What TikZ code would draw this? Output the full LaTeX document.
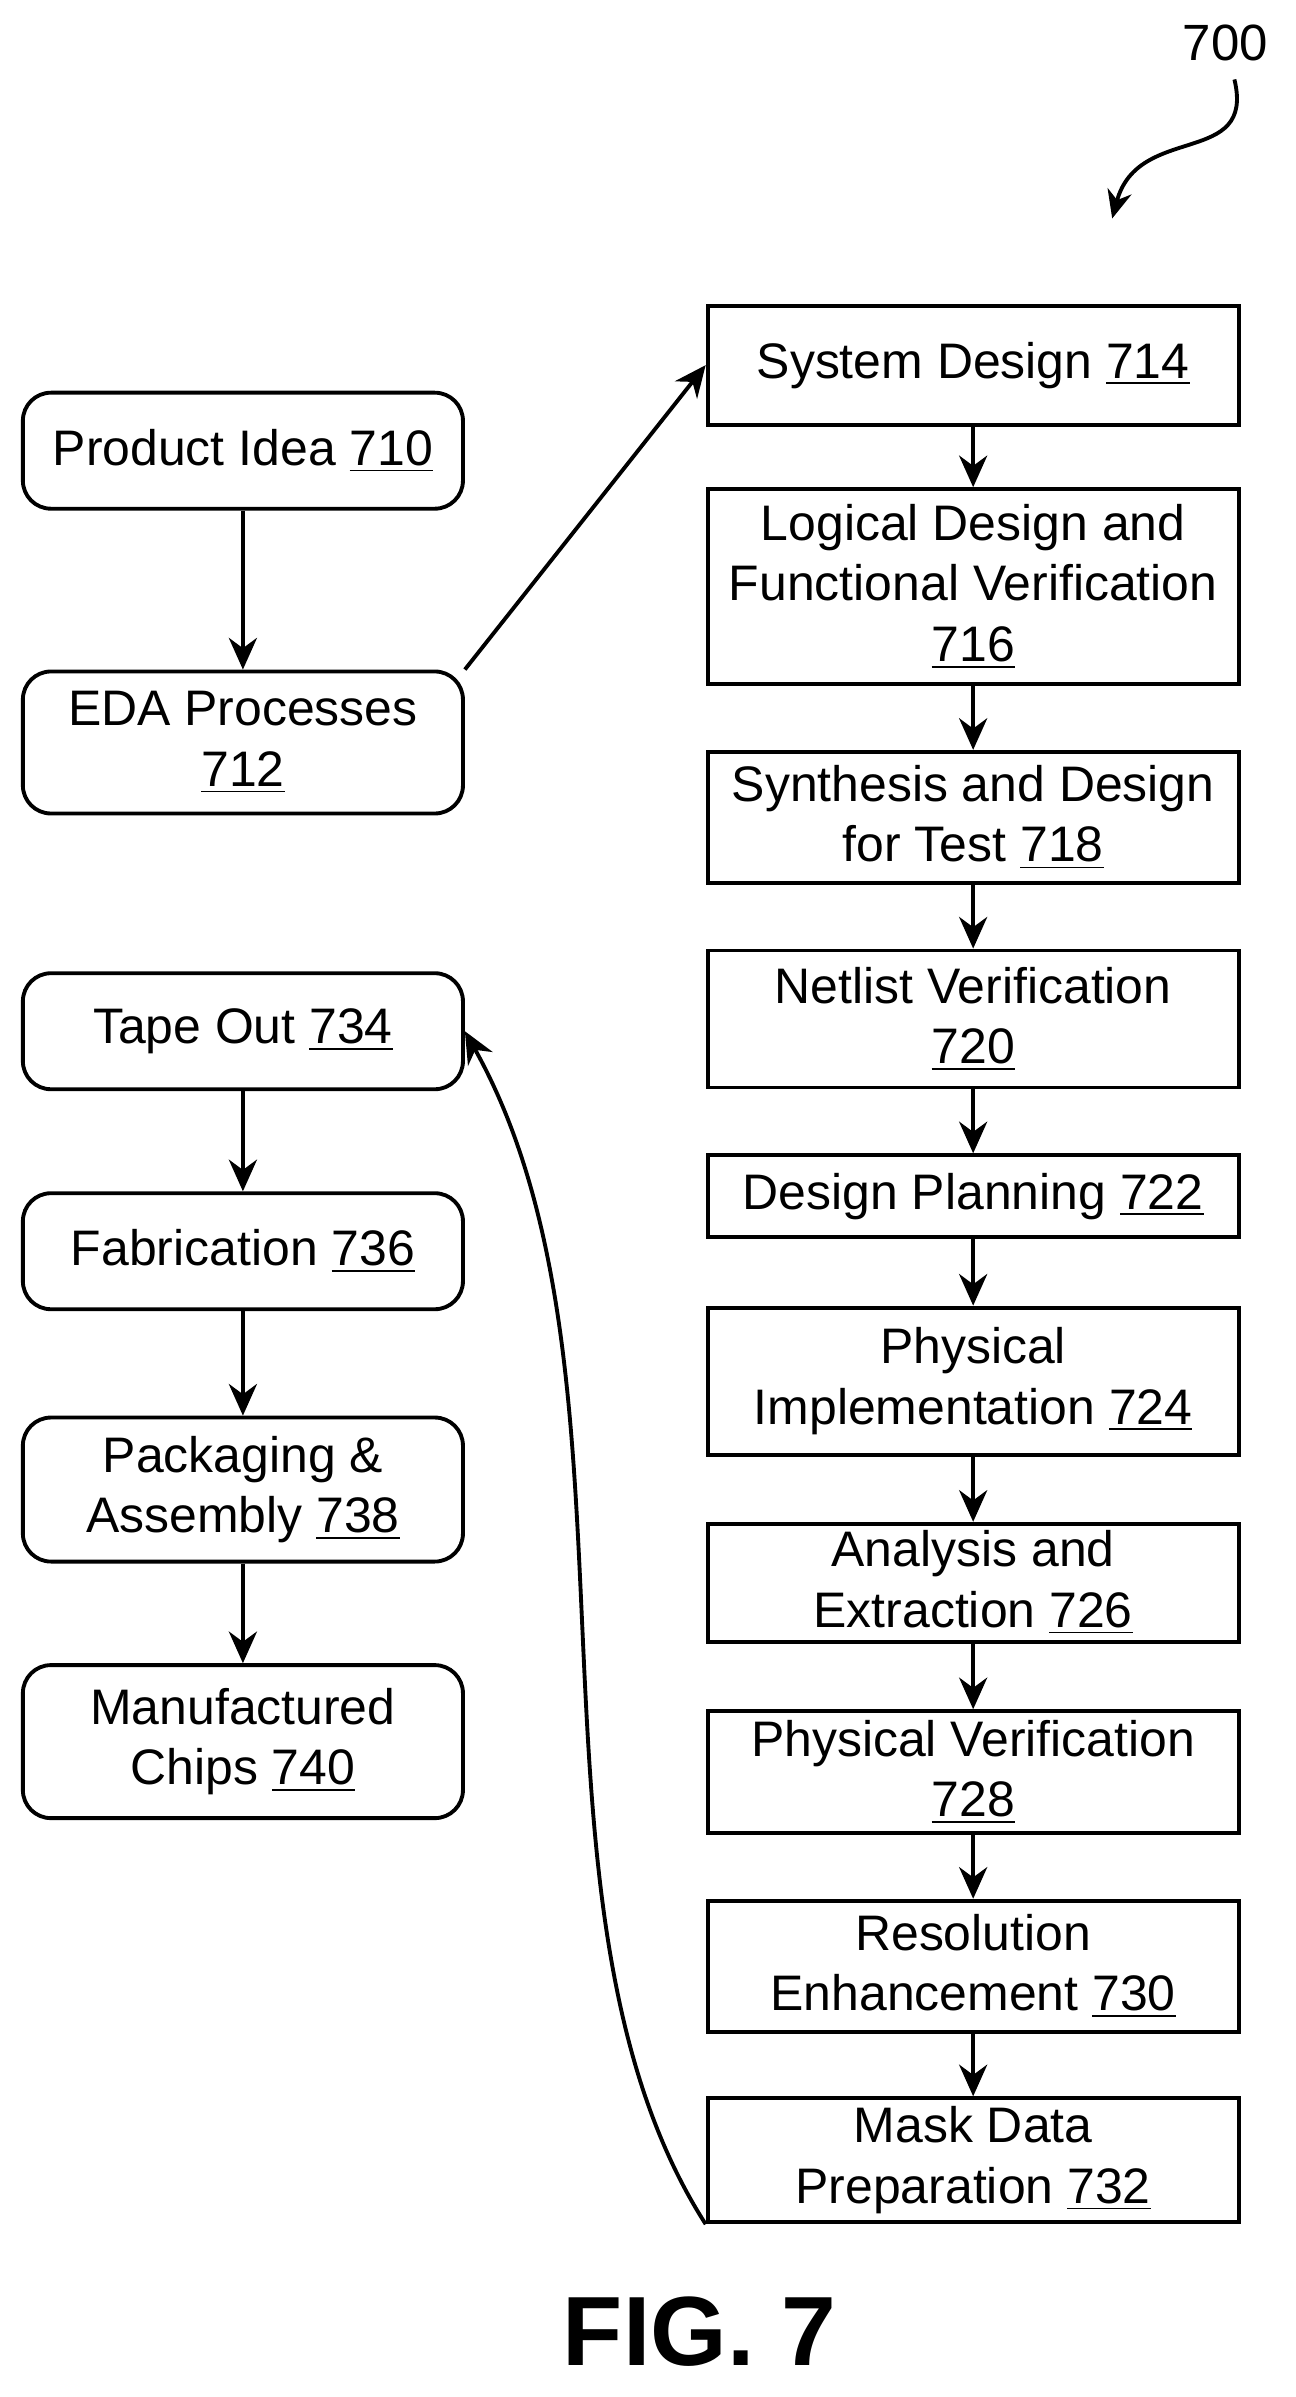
\documentclass[tikz,border=0pt]{standalone}
\usepackage{fontspec}
\setmainfont{Liberation Sans}
\usetikzlibrary{arrows.meta}
\tikzset{flowbox/.style={rectangle, draw=black, line width=1.1pt, minimum width=5.31cm, align=center, font=\fontsize{14.2pt}{17.2pt}\selectfont, inner sep=1pt},
  stage/.style={flowbox, rounded corners=8pt, minimum width=4.4cm},
  arrow/.style={line width=1.1pt, -{Stealth[length=9pt,width=8pt]}}}
\newcommand{\num}[1]{\underline{#1}}
\begin{document}
\begin{tikzpicture}[x=0.01527cm, y=-0.01527cm]
\useasboundingbox (0,0) rectangle (848,1569);
% right column
\node (sys) [flowbox, minimum height=1.19cm] at (637,239) {System Design \num{714}};
\node (log) [flowbox, minimum height=1.95cm] at (637,384) {Logical Design and\\Functional Verification\\\num{716}};
\node (syn) [flowbox, minimum height=1.31cm] at (637,535) {Synthesis and Design\\for Test \num{718}};
\node (net) [flowbox, minimum height=1.37cm] at (637,667) {Netlist Verification\\\num{720}};
\node (dpl) [flowbox, minimum height=0.82cm] at (637,783) {Design Planning \num{722}};
\node (phy) [flowbox, minimum height=1.47cm] at (637,904) {Physical\\Implementation \num{724}};
\node (ana) [flowbox, minimum height=1.18cm] at (637,1036) {Analysis and\\Extraction \num{726}};
\node (pve) [flowbox, minimum height=1.22cm] at (637,1160) {Physical Verification\\\num{728}};
\node (res) [flowbox, minimum height=1.31cm] at (637,1287) {Resolution\\Enhancement \num{730}};
\node (mdp) [flowbox, minimum height=1.24cm] at (637,1414) {Mask Data\\Preparation \num{732}};
% left column
\node (idea) [stage, minimum height=1.16cm] at (159,295) {Product Idea \num{710}};
\node (eda) [stage, minimum height=1.42cm] at (159,486) {EDA Processes\\\num{712}};
\node (tape) [stage, minimum height=1.16cm] at (159,675) {Tape Out \num{734}};
\node (fab) [stage, minimum height=1.16cm] at (159,819) {Fabrication \num{736}};
\node (pack) [stage, minimum height=1.44cm] at (159,975) {Packaging \&\\Assembly \num{738}};
\node (chip) [stage, minimum height=1.53cm] at (159,1140) {Manufactured\\Chips \num{740}};
\foreach \a/\b in {sys/log, log/syn, syn/net, net/dpl, dpl/phy, phy/ana, ana/pve, pve/res, res/mdp, idea/eda, tape/fab, fab/pack, pack/chip}
  \draw [arrow] (\a) -- (\b);
\draw [arrow] (eda.north east) -- (sys.west);
\draw [arrow] (mdp.south west) .. controls (330,1250) and (430,900) .. (tape.east);
% reference label
\node (ref) [font=\fontsize{14.5pt}{16pt}\selectfont] at (802,28) {700};
\coordinate (refend) at (728,143);
\draw [line width=1.1pt, -{Stealth[length=8pt,width=7pt]}] (808,52) .. controls (822,110) and (745,80) .. (refend);
\node (fig) [font=\fontsize{28pt}{32pt}\selectfont\bfseries] at (458,1526) {FIG. 7};
\end{tikzpicture}
\end{document}
